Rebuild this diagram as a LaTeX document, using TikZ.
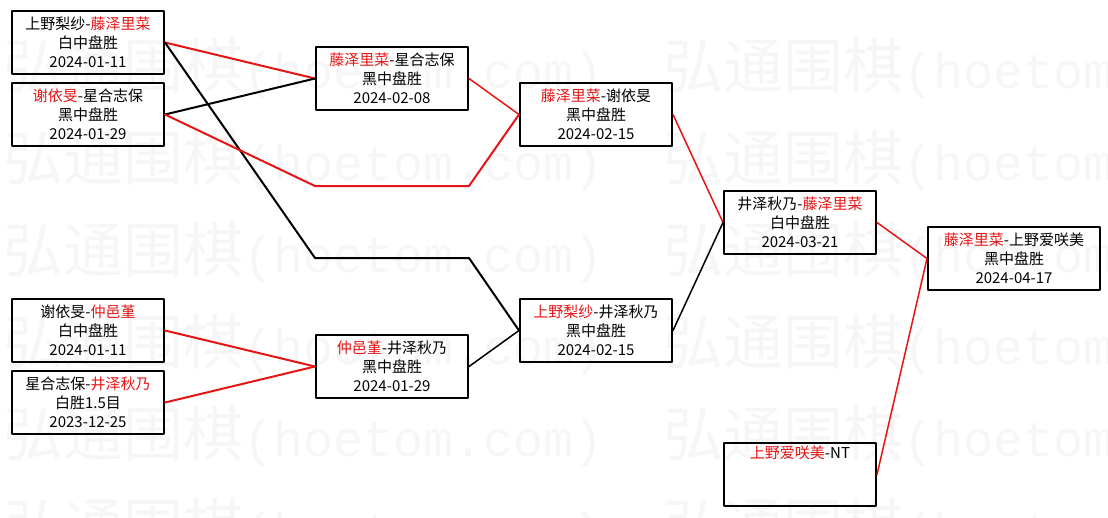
\documentclass[tikz,border=0pt]{standalone}
\usepackage{fontspec}
\setmainfont{Noto Sans CJK SC}
\newfontfamily\wmmono{Liberation Mono}
\usetikzlibrary{positioning, calc}
\definecolor{winred}{RGB}{230,20,20}
\newcommand{\winner}[1]{\textcolor{winred}{#1}}
\tikzset{
  game/.style={draw, line width=2pt, minimum width=152pt, minimum height=63pt,
    inner sep=0pt, align=center, font=\fontsize{15}{19}\selectfont},
  winline/.style={winred, line width=2pt},
  loseline/.style={black, line width=2pt},
  winlate/.style={winred, line width=1.5pt},
  loselate/.style={black, line width=1.5pt},
  mark text/.style={black!3.5, anchor=base west, inner sep=0pt}
}

\begin{document}
\begin{tikzpicture}[x=1pt, y=-1pt, line join=round, line cap=round]
      \useasboundingbox (0,0) rectangle (1108,517);
      % watermark
      \begin{scope}
        \clip (0,0) rectangle (1108,517);
        \foreach \wy in {88,180,272,364,456,548}
          \foreach \wx in {3,663}
            \node[mark text] at (\wx,\wy)
              {\fontsize{60}{60}\selectfont 弘通围棋{\wmmono\fontsize{50}{60}\selectfont(hoetom.com)}};
      \end{scope}
      % bends
      \coordinate (lowA) at (315,258);
      \coordinate (lowB) at (469,258);
      \coordinate (midA) at (315,186);
      \coordinate (midB) at (469,186);
      % round 1
      \node[game] (a1) at (88,42.5) {上野梨纱-\winner{藤泽里菜}\\白中盘胜\\2024-01-11};
      \node[game] (a2) at (88,114.5) {\winner{谢依旻}-星合志保\\黑中盘胜\\2024-01-29};
      \node[game] (a3) at (88,330.5) {谢依旻-\winner{仲邑堇}\\白中盘胜\\2024-01-11};
      \node[game] (a4) at (88,402.5) {星合志保-\winner{井泽秋乃}\\白胜1.5目\\2023-12-25};
      % round 2
      \node[game] (b1) at (392,78.5) {\winner{藤泽里菜}-星合志保\\黑中盘胜\\2024-02-08};
      \node[game] (b2) at (392,366.5) {\winner{仲邑堇}-井泽秋乃\\黑中盘胜\\2024-01-29};
      % round 3
      \node[game] (c1) at (596,114.5) {\winner{藤泽里菜}-谢依旻\\黑中盘胜\\2024-02-15};
      \node[game] (c2) at (596,330.5) {\winner{上野梨纱}-井泽秋乃\\黑中盘胜\\2024-02-15};
      % round 4
      \node[game] (d1) at (800,222.5) {井泽秋乃-\winner{藤泽里菜}\\白中盘胜\\2024-03-21};
      \node[game] (d2) at (800,474.5) {\winner{上野爱咲美}-NT\\\strut\\\strut};
      % final
      \node[game, minimum width=172pt] (e1) at (1014,258.5) {\winner{藤泽里菜}-上野爱咲美\\黑中盘胜\\2024-04-17};
      % connectors
      \draw[winline] (a1.east) -- (b1.west);
      \draw[loseline] (a2.east) -- (b1.west);
      \draw[loseline] (a1.east) -- (lowA) -- (lowB) -- (c2.west);
      \draw[winline] (a2.east) -- (midA) -- (midB) -- (c1.west);
      \draw[winline] (a3.east) -- (b2.west);
      \draw[winline] (a4.east) -- (b2.west);
      \draw[winlate] (b1.east) -- (c1.west);
      \draw[loselate] (b2.east) -- (c2.west);
      \draw[winlate] (c1.east) -- (d1.west);
      \draw[loselate] (c2.east) -- (d1.west);
      \draw[winlate] (d1.east) -- (e1.west);
      \draw[winlate] (d2.east) -- (e1.west);
    \end{tikzpicture}
\end{document}
